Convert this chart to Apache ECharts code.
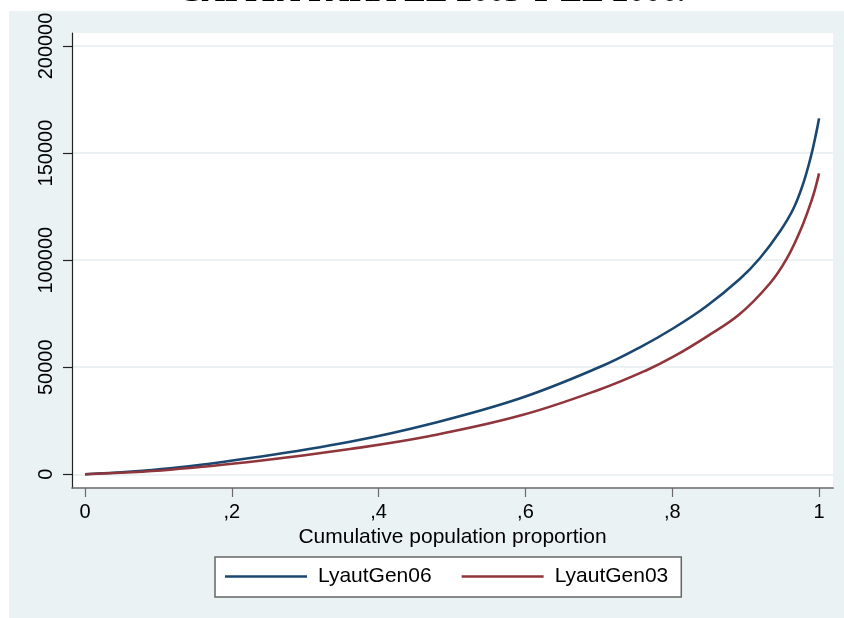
<!DOCTYPE html>
<html>
<head>
<meta charset="utf-8">
<script src="https://cdn.jsdelivr.net/npm/echarts@6/dist/echarts.min.js"></script>
<style>
  html, body { margin: 0; padding: 0; background: #ffffff; }
  #chart { width: 844px; height: 618px; }
</style>
</head>
<body>
<div id="chart"></div>
<script>
// Generalized Lorenz curves of per-capita income, 2003 vs 2006
const titleText = 'CAPITA PARA EL 2003 Y EL 2006.';
const xAxisTitle = 'Cumulative population proportion';
const seriesNames = ['LyautGen06', 'LyautGen03'];

const xTickValues = [0, 0.2, 0.4, 0.6, 0.8, 1];
const xTickLabels = ['0', ',2', ',4', ',6', ',8', '1'];
const yTickValues = [0, 50000, 100000, 150000, 200000];
const yTickLabels = ['0', '50000', '100000', '150000', '200000'];

// 2006 curve: cumulative population share and generalized Lorenz ordinate
const popShare06 = [0, 0.116, 0.238, 0.361, 0.47, 0.593, 0.702, 0.756, 0.8015, 0.847, 0.8924, 0.9196, 0.9469, 0.965, 0.9786, 0.9886, 0.996, 1];
const lyautGen06 = [0, 2800, 8200, 15200, 23500, 35500, 50200, 59300, 68200, 78600, 91300, 101000, 113500, 124000, 136000, 148000, 159200, 166200];

// 2003 curve
const popShare03 = [0, 0.116, 0.238, 0.361, 0.47, 0.593, 0.702, 0.765, 0.8015, 0.847, 0.892, 0.9332, 0.956, 0.9741, 0.9854, 0.9932, 1];
const lyautGen03 = [0, 2150, 6300, 11800, 17900, 27400, 39700, 48600, 54900, 64300, 74800, 89200, 100700, 113500, 123500, 131500, 140500];

const sansFont = '"Liberation Sans", Arial, sans-serif';
const blue = '#1a476f';
const red = '#90353b';

const chart = echarts.init(document.getElementById('chart'), null, { renderer: 'canvas' });

const option = {
  backgroundColor: '#ffffff',
  animation: false,
  graphic: [{
    type: 'rect',
    left: 9, top: 11,
    shape: { width: 835, height: 607 },
    style: { fill: '#eaf2f3' },
    z: -10,
    silent: true
  }],
  title: {
    text: titleText,
    left: 178,
    top: -24,
    padding: 0,
    textStyle: {
      fontFamily: '"Liberation Serif", "Times New Roman", serif',
      fontWeight: 'bold',
      fontSize: 32.5,
      color: '#000000'
    }
  },
  grid: {
    left: 72, top: 33, right: 11, bottom: 130,
    show: true,
    backgroundColor: '#ffffff',
    borderWidth: 0,
    containLabel: false,
    outerBoundsMode: 'none'
  },
  legend: {
    left: 215, top: 557,
    orient: 'horizontal',
    icon: 'rect',
    itemWidth: 82, itemHeight: 2.6, itemGap: 30,
    padding: [9, 13, 10, 10],
    backgroundColor: '#ffffff',
    borderColor: '#666666',
    borderWidth: 1.5,
    borderRadius: 0,
    textStyle: { fontFamily: sansFont, fontSize: 21, color: '#000000', padding: [0, 0, 0, 6] },
    data: seriesNames
  },
  xAxis: {
    type: 'value',
    min: -0.0177, max: 1.019,
    name: xAxisTitle,
    nameLocation: 'middle',
    nameGap: 34,
    nameTextStyle: { fontFamily: sansFont, fontSize: 21, color: '#000000' },
    axisLine: { show: true, onZero: false, lineStyle: { color: '#6a6a6a', width: 1.7 } },
    axisTick: { show: true, length: 9, customValues: xTickValues, lineStyle: { color: '#6a6a6a', width: 1.2 } },
    axisLabel: {
      customValues: xTickValues,
      margin: 14,
      fontFamily: sansFont, fontSize: 20, color: '#000000',
      formatter: v => xTickLabels[Math.round(v * 5)]
    },
    splitLine: { show: false }
  },
  yAxis: {
    type: 'value',
    min: -6400, max: 206070,
    axisLine: { show: true, onZero: false, lineStyle: { color: '#222222', width: 1.2 } },
    axisTick: { show: true, length: 9, customValues: yTickValues, lineStyle: { color: '#222222', width: 1.2 } },
    axisLabel: {
      customValues: yTickValues,
      rotate: 90,
      margin: 16,
      fontFamily: sansFont, fontSize: 20, color: '#000000',
      formatter: v => yTickLabels[Math.round(v / 50000)]
    },
    splitLine: { show: true, lineStyle: { color: '#e6eef1', width: 1.5 } }
  },
  series: [
    {
      name: seriesNames[0],
      type: 'line',
      data: popShare06.map((p, i) => [p, lyautGen06[i]]),
      symbol: 'none',
      smooth: 0.4,
      lineStyle: { color: blue, width: 2.6 },
      itemStyle: { color: blue },
      z: 3
    },
    {
      name: seriesNames[1],
      type: 'line',
      data: popShare03.map((p, i) => [p, lyautGen03[i]]),
      symbol: 'none',
      smooth: 0.4,
      lineStyle: { color: red, width: 2.6 },
      itemStyle: { color: red },
      z: 4
    }
  ]
};

chart.setOption(option);
</script>
</body>
</html>
